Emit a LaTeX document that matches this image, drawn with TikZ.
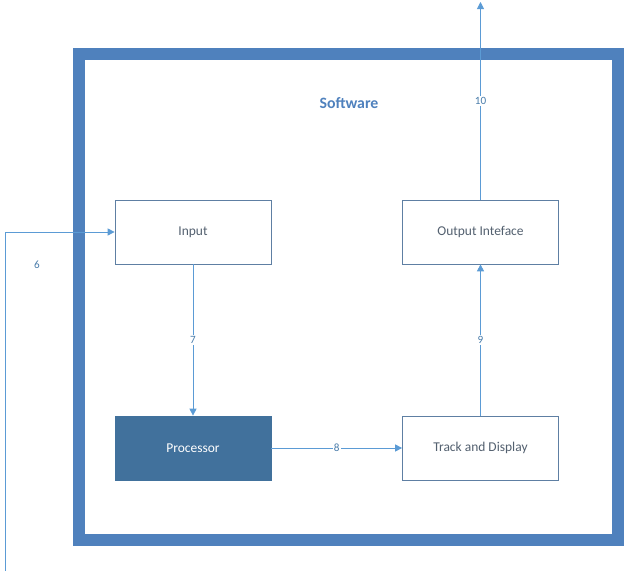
\documentclass[tikz,border=0pt]{standalone}
\usepackage{fontspec}
\setmainfont{Carlito}
\usetikzlibrary{arrows.meta}
\definecolor{frameblue}{HTML}{4F81BD}
\definecolor{lineblue}{HTML}{5B9BD5}
\definecolor{procblue}{HTML}{41719C}
\definecolor{edgeblue}{HTML}{5E7FA3}
\definecolor{textgrey}{HTML}{53606F}
\begin{document}
\begin{tikzpicture}[x=0.03cm, y=-0.03cm,
  block/.style={draw=edgeblue, line width=0.6pt, fill=white, minimum width=4.68cm, minimum height=1.92cm, text=textgrey, font=\fontsize{11.5}{13}\selectfont},
  flow/.style={lineblue, line width=0.7pt, -{Triangle[length=6pt,width=6pt]}},
  num/.style={fill=white, inner sep=1pt, text=lineblue!80!black, font=\fontsize{9.5}{11}\selectfont}]
  \useasboundingbox (0,0) rectangle (630,571);

  % Draw software frame
  \draw[frameblue, line width=0.375cm] (79,54) rectangle (618,540);
  \node[text=frameblue, font=\fontsize{13.5}{15}\selectfont\bfseries] (sw) at (349,103) {Software};

  % Draw blocks
  \node[block] (input) at (193,232) {Input};
  \node[block, fill=procblue, draw=procblue, text=white] (proc) at (193,448) {Processor};
  \node[block] (track) at (480.5,448) {Track and Display};
  \node[block] (output) at (480.5,232) {Output Inteface};

  % Free ends
  \coordinate (src) at (5,571);
  \coordinate (bend) at (5,232);
  \coordinate (dst) at (480.5,2);

  % Connect blocks
  \draw[flow] (src) -- (bend) -- (input.west);
  \node[num] (l6) at (37,265) {6};
  \draw[flow] (input.south) -- node[num] (l7) {7} (proc.north);
  \draw[flow] (proc.east) -- node[num] (l8) {8} (track.west);
  \draw[flow] (track.north) -- node[num] (l9) {9} (output.south);
  \draw[flow] (output.north) -- node[num, pos=0.5] (l10) {10} (dst);
\end{tikzpicture}
\end{document}
